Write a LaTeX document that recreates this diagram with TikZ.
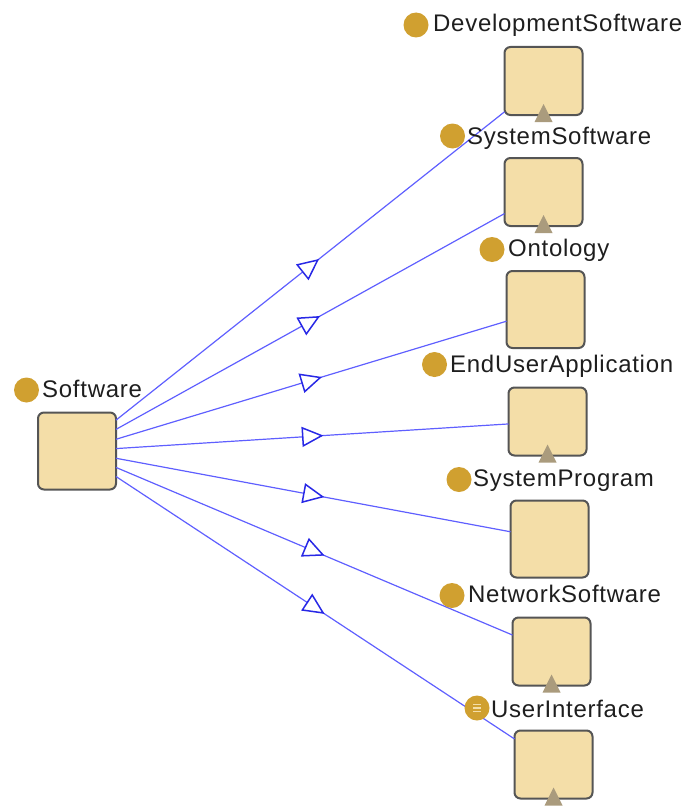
\documentclass[tikz,border=0pt]{standalone}
\usepackage{fontspec}
\setmainfont{Liberation Sans}[LetterSpace=3]
\usetikzlibrary{decorations.markings}
\definecolor{boxfill}{RGB}{244,222,168}
\definecolor{boxline}{RGB}{85,85,85}
\definecolor{dotcol}{RGB}{208,160,48}
\definecolor{tricol}{RGB}{170,155,125}
\definecolor{edgecol}{RGB}{95,95,255}
\definecolor{headcol}{RGB}{40,40,230}
\definecolor{txtcol}{RGB}{30,30,30}
\tikzset{
  cls/.style={draw=boxline, line width=2pt, fill=boxfill, rounded corners=6pt,
    minimum width=78pt, inner sep=0pt, outer sep=0pt},
  tall/.style={cls, minimum height=77pt},
  short/.style={cls, minimum height=68pt},
  lbl/.style={anchor=base west, inner sep=0pt, text=txtcol, font=\fontsize{24}{28}\selectfont},
  dot/.style={circle, fill=dotcol, minimum size=25pt, inner sep=0pt},
  subcls/.style={draw=edgecol, line width=1.2pt, postaction={decorate},
    decoration={markings, mark=at position 0.5 with {
      \draw[draw=headcol, fill=white, line width=1.5pt, line join=miter]
        (-9.5,-9) -- (9.5,0) -- (-9.5,9) -- cycle;}}},
  expander/.style={fill=tricol}
}
\begin{document}
\begin{tikzpicture}[x=1pt, y=-1pt]
\useasboundingbox (0,0) rectangle (687,808);
% boxes
\node[tall]  (sw) at (77,451) {};
\node[short] (b1) at (543.5,81) {};
\node[short] (b2) at (543.5,192) {};
\node[tall]  (b3) at (545.5,309.5) {};
\node[short] (b4) at (547.5,421.5) {};
\node[tall]  (b5) at (549.5,539) {};
\node[short] (b6) at (551.5,651.5) {};
\node[short] (b7) at (553.5,764.5) {};
% edges
\foreach \b in {b1,b2,b3,b4,b5,b6,b7}
  \draw[subcls] (sw) -- (\b);
% expander triangles
\foreach \b in {b1,b2,b4,b6,b7}
  \fill[expander] (\b.south) ++(-9,7) -- ++(18,0) -- ++(-9,-18) -- cycle;
% labels
\node[dot] (d0) at (26.5,390) {};
\node[lbl] (t0) at (42,397) {Software};
\node[dot] (d1) at (416,25) {};
\node[lbl] (t1) at (433,32) {DevelopmentSoftware};
\node[dot] (d2) at (452.5,136) {};
\node[lbl] (t2) at (467,144) {SystemSoftware};
\node[dot] (d3) at (492,249.5) {};
\node[lbl] (t3) at (508,256) {Ontology};
\node[dot] (d4) at (434.5,364.5) {};
\node[lbl] (t4) at (450,372) {EndUserApplication};
\node[dot] (d5) at (459,479.5) {};
\node[lbl] (t5) at (473,486) {SystemProgram};
\node[dot] (d6) at (452,595.5) {};
\node[lbl] (t6) at (468,602) {NetworkSoftware};
\node[dot] (d7) at (477,708) {};
\foreach \dy in {-3.5,0,3.5}
  \draw[line width=1.6pt, draw=boxfill] ([xshift=-4pt, yshift=\dy pt]d7.center) -- ([xshift=4pt, yshift=\dy pt]d7.center);
\node[lbl] (t7) at (491,717) {UserInterface};
\end{tikzpicture}
\end{document}
